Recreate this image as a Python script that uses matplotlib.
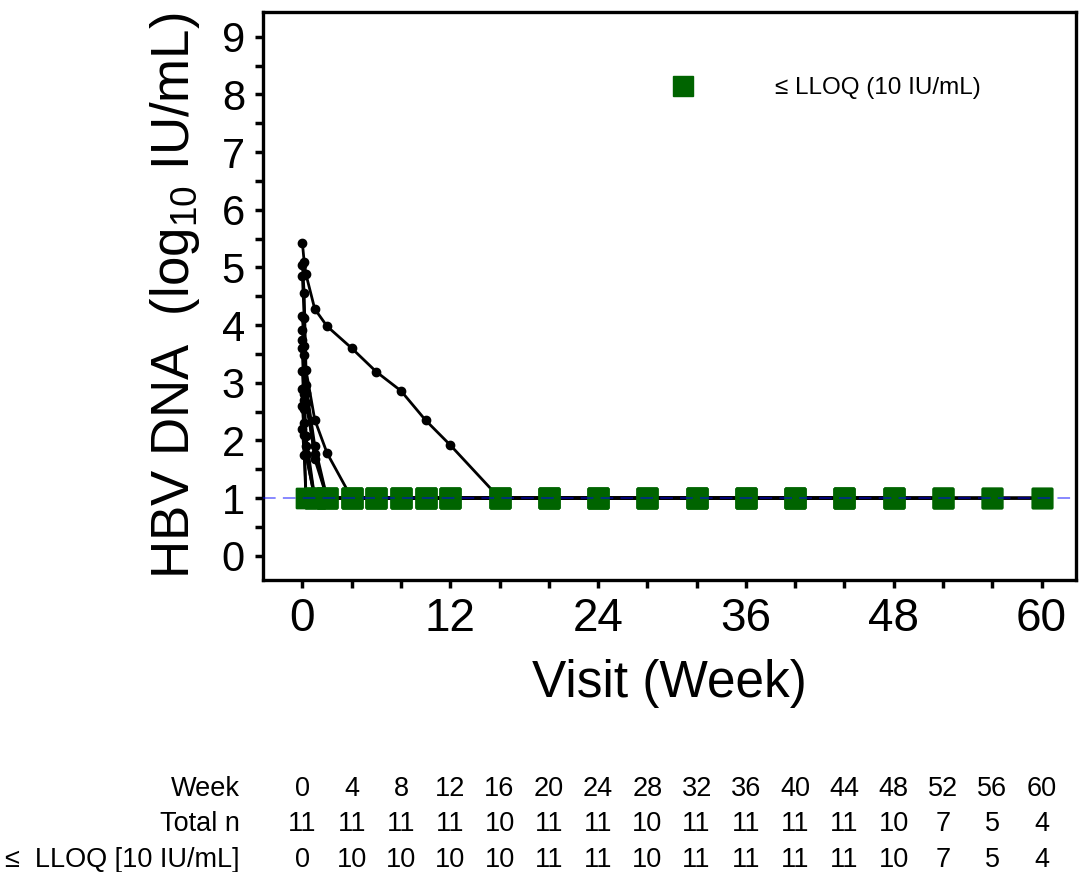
import numpy as np
import matplotlib
matplotlib.use('Agg')
import matplotlib.pyplot as plt
from matplotlib.ticker import MultipleLocator
from matplotlib.lines import Line2D
import matplotlib.transforms as mtransforms

plt.rcParams['font.family'] = ['Liberation Sans', 'DejaVu Sans']
plt.rcParams['mathtext.default'] = 'regular'

# visit weeks (day 1, day 2, day 3, week 1, ...)
visits = [0, 0.14, 0.29, 1, 2, 4, 6, 8, 10, 12, 16, 20, 24, 28,
          32, 36, 40, 44, 48, 52, 56, 60]
LLOQ = 1.0

# detectable HBV DNA (log10 IU/mL) per subject, from day 1 on;
# after the last detectable value the subject is <= LLOQ
s01 = [5.42, 5.10, 4.88, 4.28, 3.98, 3.60, 3.19, 2.86, 2.35, 1.92]
s02 = [5.05, 4.56, 3.22, 2.36, 1.78]
s03 = [4.85, 4.13, 2.96, 1.91]
s04 = [4.15, 3.63, 2.65, 1.77]
s05 = [3.92, 3.49, 2.82, 1.68]
s06 = [3.74, 2.80, 2.07]
s07 = [3.60, 2.70, 1.77]
s08 = [3.20, 2.55, 1.90]
s09 = [2.90, 2.30, 1.75]
s10 = [2.60, 2.10]
s11 = [2.20, 1.75]
subjects = [s01, s02, s03, s04, s05, s06, s07, s08, s09, s10, s11]
# last visit attended and missed visits
last_visit = [60, 60, 60, 60, 56, 52, 52, 48, 48, 48, 48]
missed = [[], [], [48], [], [16], [], [28], [], [], [], []]

# table under the plot
table_weeks = [0, 4, 8, 12, 16, 20, 24, 28, 32, 36, 40, 44, 48, 52, 56, 60]
total_n = [11, 11, 11, 11, 10, 11, 11, 10, 11, 11, 11, 11, 10, 7, 5, 4]
n_lloq = [0, 10, 10, 10, 10, 11, 11, 10, 11, 11, 11, 11, 10, 7, 5, 4]

fig = plt.figure(figsize=(10.81, 8.72), dpi=100)
ax = fig.add_axes([0.2433, 0.3349, 0.7521, 0.6513])

green = '#006400'
for vals, last, miss in zip(subjects, last_visit, missed):
    xs, ys = [], []
    for i, w in enumerate(visits):
        if w > last or w in miss:
            continue
        xs.append(w)
        ys.append(vals[i] if i < len(vals) else LLOQ)
    xs = np.array(xs)
    ys = np.array(ys)
    ax.plot(xs, ys, color='black', lw=2.0, marker='o', ms=6, zorder=3)
    below = ys <= LLOQ
    ax.plot(xs[below], ys[below], ls='none', marker='s', ms=13.7,
            color=green, mec=green, zorder=4)

ax.axhline(LLOQ, color='blue', alpha=0.5, lw=1.3, ls=(0, (7, 4)), zorder=5)

ax.set_xlim(-3.2, 62.8)
ax.set_ylim(-0.42, 9.43)
ax.xaxis.set_major_locator(MultipleLocator(12))
ax.xaxis.set_minor_locator(MultipleLocator(4))
ax.yaxis.set_major_locator(MultipleLocator(1))
ax.yaxis.set_minor_locator(MultipleLocator(0.5))
ax.tick_params(which='both', direction='out', length=6, width=2.5)
ax.tick_params(axis='y', labelsize=30, pad=7)
ax.tick_params(axis='x', labelsize=33, pad=6)
for sp in ax.spines.values():
    sp.set_linewidth(2.4)

ax.set_xlabel('Visit (Week)', fontsize=37, labelpad=13)
ax.set_ylabel('HBV DNA  (log$_{10}$ IU/mL)', fontsize=38, labelpad=14)

ax.legend(handles=[Line2D([], [], ls='none', marker='s', ms=14, color=green)],
          labels=['\u2264 LLOQ (10 IU/mL)'], loc='center left',
          bbox_to_anchor=(0.487, 0.866), frameon=False, borderpad=0,
          borderaxespad=0, handlelength=2.0, handletextpad=2.77,
          fontsize=17.5)

# numbers table
trans = mtransforms.blended_transform_factory(ax.transData, fig.transFigure)
row_labels = ['Week', 'Total n', '\u2264  LLOQ [10 IU/mL]']
rows = [table_weeks, total_n, n_lloq]
row_y = [0.0955, 0.0545, 0.014]
for lab, vals, yy in zip(row_labels, rows, row_y):
    fig.text(0.222, yy, lab, ha='right', va='center', fontsize=19.5)
    for w, v in zip(table_weeks, vals):
        ax.text(w, yy, str(v), transform=trans, ha='center', va='center',
                fontsize=19.5)

fig.savefig('out.png', dpi=100)
